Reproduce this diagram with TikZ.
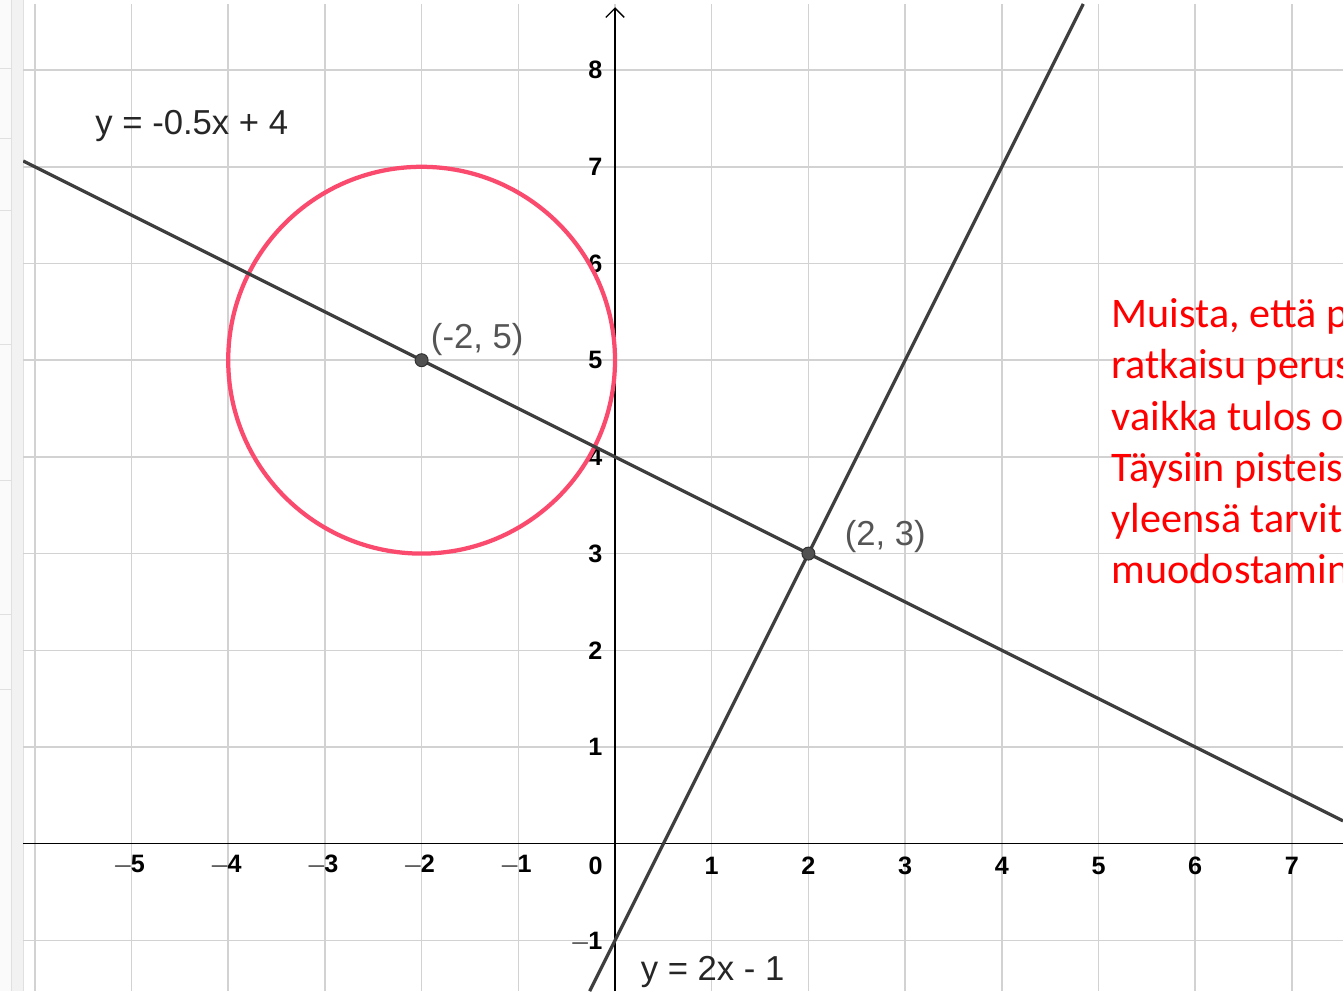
\documentclass[tikz,border=0pt]{standalone}
\usepackage{fontspec}
\setmainfont{Liberation Sans}
\newfontfamily\notefont{Carlito}
\usetikzlibrary{arrows.meta}
\usepackage{xcolor}
\definecolor{gridgray}{RGB}{210,210,210}
\definecolor{linegray}{RGB}{62,62,62}
\definecolor{circred}{RGB}{250,75,110}
\definecolor{labelgray}{RGB}{85,85,85}

\begin{document}
\begin{tikzpicture}[x=1cm,y=1cm,
    ticklabel/.style={font=\fontsize{7.4}{8}\selectfont\bfseries,inner sep=0pt},
    eqlabel/.style={font=\fontsize{10.2}{12}\selectfont,inner sep=0pt,anchor=base west,text=black!85},
    ptlabel/.style={font=\fontsize{10.2}{12}\selectfont,inner sep=0pt,anchor=base west,text=labelgray},
    noteline/.style={font=\notefont\fontsize{12.4}{15}\selectfont,inner sep=0pt,anchor=base west,text=red},
    graphline/.style={linegray,line width=0.95pt},
    pointdot/.style={circle,fill=linegray!90,draw=black!80,line width=0.3pt,inner sep=0pt,minimum size=3.8pt}]
  \useasboundingbox (-6.36,-1.525) rectangle (7.528,8.725);
  \fill[white] (-6.36,-1.525) rectangle (7.528,8.725);
  % side panel
  \fill[black!2] (-6.36,-1.525) rectangle (-6.24,8.725);
  \foreach \y in {8.02,7.29,6.55,5.16,3.76,2.37,1.59}{%
    \draw[black!12,line width=0.3pt] (-6.36,\y) -- (-6.24,\y);}
  \fill[black!5] (-6.24,-1.525) rectangle (-6.12,8.725);
  \draw[black!12,line width=0.3pt] (-6.24,-1.525) -- (-6.24,8.725);
  \draw[black!12,line width=0.3pt] (-6.12,-1.525) -- (-6.12,8.725);
  % grid
  \foreach \x in {-6,...,7}{%
    \draw[gridgray,line width=0.45pt] (\x,-1.525) -- (\x,8.684);}
  \foreach \y in {-1,...,8}{%
    \draw[gridgray,line width=0.45pt] (-6.12,\y) -- (7.528,\y);}
  % axes
  \draw[black,line width=0.4pt] (-6.12,0) -- (7.528,0);
  \draw[black,line width=0.4pt,-{Straight Barb[length=2.7pt,width=5.4pt]}] (0,-1.525) -- (0,8.65);
  % tick labels
  \foreach \x in {-5,...,-1}{%
    \node[ticklabel] (xl\x) at (\x-0.03,-0.225) {$\mathbf{-}$\kern-0.8pt\textbf{\the\numexpr-\x\relax}};}
  \foreach \x in {1,...,7}{%
    \node[ticklabel] (xl\x) at (\x,-0.225) {\x};}
  \node[ticklabel] (xl0) at (-0.2,-0.225) {0};
  \foreach \y in {1,...,8}{%
    \node[ticklabel,anchor=east] (yl\y) at (-0.125,\y) {\y};}
  \node[ticklabel,anchor=east] (ylm1) at (-0.125,-1.02) {$\mathbf{-}$\kern-0.8pt\textbf{1}};
  % lines and circle
  \begin{scope}
    \clip (-6.12,-1.525) rectangle (7.528,8.684);
    \draw[circred,line width=1.25pt] (-2,5) circle (2);
    \draw[graphline] (-6.12,7.06) -- (7.528,0.236);
    \draw[graphline] (-0.2625,-1.525) -- (4.842,8.684);
  \end{scope}
  \node[pointdot] (pA) at (-2,5) {};
  \node[pointdot] (pB) at (2,3) {};
  \node[ptlabel] (lA) at (-1.91,5.12) {(-2, 5)};
  \node[ptlabel] (lB) at (2.37,3.08) {(2, 3)};
  \node[eqlabel] (eq1) at (-5.38,7.33) {y = -0.5x + 4};
  \node[eqlabel] (eq2) at (0.26,-1.41) {y = 2x - 1};
  % note, cut at the right edge
  \begin{scope}
    \clip (-6.36,-1.525) rectangle (7.528,8.725);
    \node[noteline] (n1) at (5.13,5.337) {Muista, että p};
    \node[noteline] (n2) at (5.13,4.807) {ratkaisu perus};
    \node[noteline] (n3) at (5.13,4.277) {vaikka tulos o};
    \node[noteline] (n4) at (5.13,3.747) {Täysiin pisteis};
    \node[noteline] (n5) at (5.13,3.217) {yleensä tarvit};
    \node[noteline] (n6) at (5.13,2.687) {muodostamin};
  \end{scope}
\end{tikzpicture}
\end{document}
